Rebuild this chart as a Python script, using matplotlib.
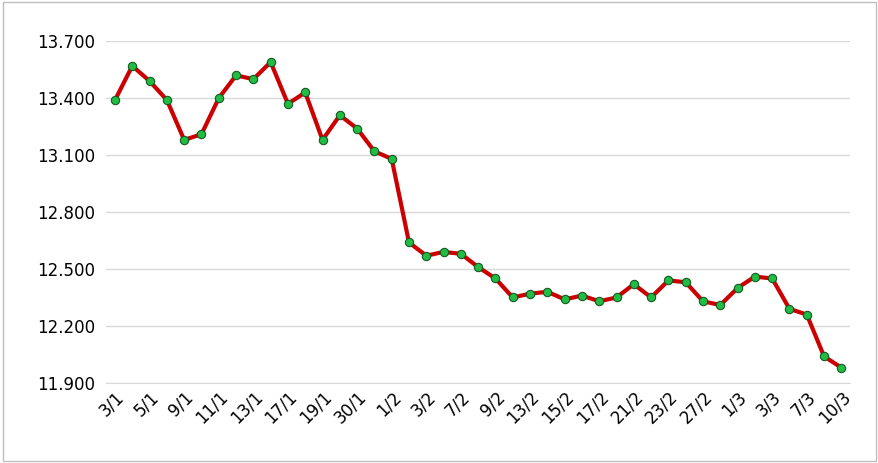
import matplotlib
matplotlib.use("Agg")
import matplotlib.pyplot as plt
from matplotlib.ticker import FuncFormatter

dates = ["3/1","4/1","5/1","6/1","9/1","10/1","11/1","12/1","13/1","16/1","17/1","18/1","19/1","29/1","30/1","31/1",
         "1/2","2/2","3/2","6/2","7/2","8/2","9/2","10/2","13/2","14/2","15/2","16/2","17/2","20/2","21/2","22/2",
         "23/2","24/2","27/2","28/2","1/3","2/3","3/3","6/3","7/3","8/3","10/3"]
values = [13.39,13.57,13.49,13.39,13.18,13.21,13.40,13.52,13.50,13.59,13.37,13.43,13.18,13.31,13.24,13.12,
          13.08,12.64,12.57,12.59,12.58,12.51,12.45,12.35,12.37,12.38,12.34,12.36,12.33,12.35,12.42,12.35,
          12.44,12.43,12.33,12.31,12.40,12.46,12.45,12.29,12.26,12.04,11.98]
yticks = [11.9,12.2,12.5,12.8,13.1,13.4,13.7]

fig = plt.figure(figsize=(8.79,4.63), dpi=100)
ax = fig.add_axes([0.121,0.173,0.846,0.738])
x = list(range(len(values)))
ax.plot(x, values, color="#cc0000", lw=3, marker="o", ms=6, mfc="#22bb44", mec="#145a22", mew=0.8, zorder=3)
ax.set_ylim(11.9,13.7)
ax.set_yticks(yticks)
ax.yaxis.set_major_formatter(FuncFormatter(lambda v,p: f"{v:.3f}"))
ax.set_xlim(-0.5,len(values)-0.5)
ax.set_xticks(x[::2])
ax.set_xticklabels(dates[::2], rotation=45, ha="right", rotation_mode="anchor", fontsize=12)
ax.tick_params(axis="y", labelsize=12, length=0, pad=8)
ax.tick_params(axis="x", length=0)
ax.grid(axis="y", color="#d9d9d9", lw=1)
ax.set_axisbelow(True)
for s in ["top","right","left"]:
    ax.spines[s].set_visible(False)
ax.spines["bottom"].set_color("#d9d9d9")
fig.patches.append(plt.Rectangle((0.003,0.005),0.994,0.99,transform=fig.transFigure,fill=False,ec="#bfbfbf",lw=1))
fig.savefig("out.png", dpi=100)
